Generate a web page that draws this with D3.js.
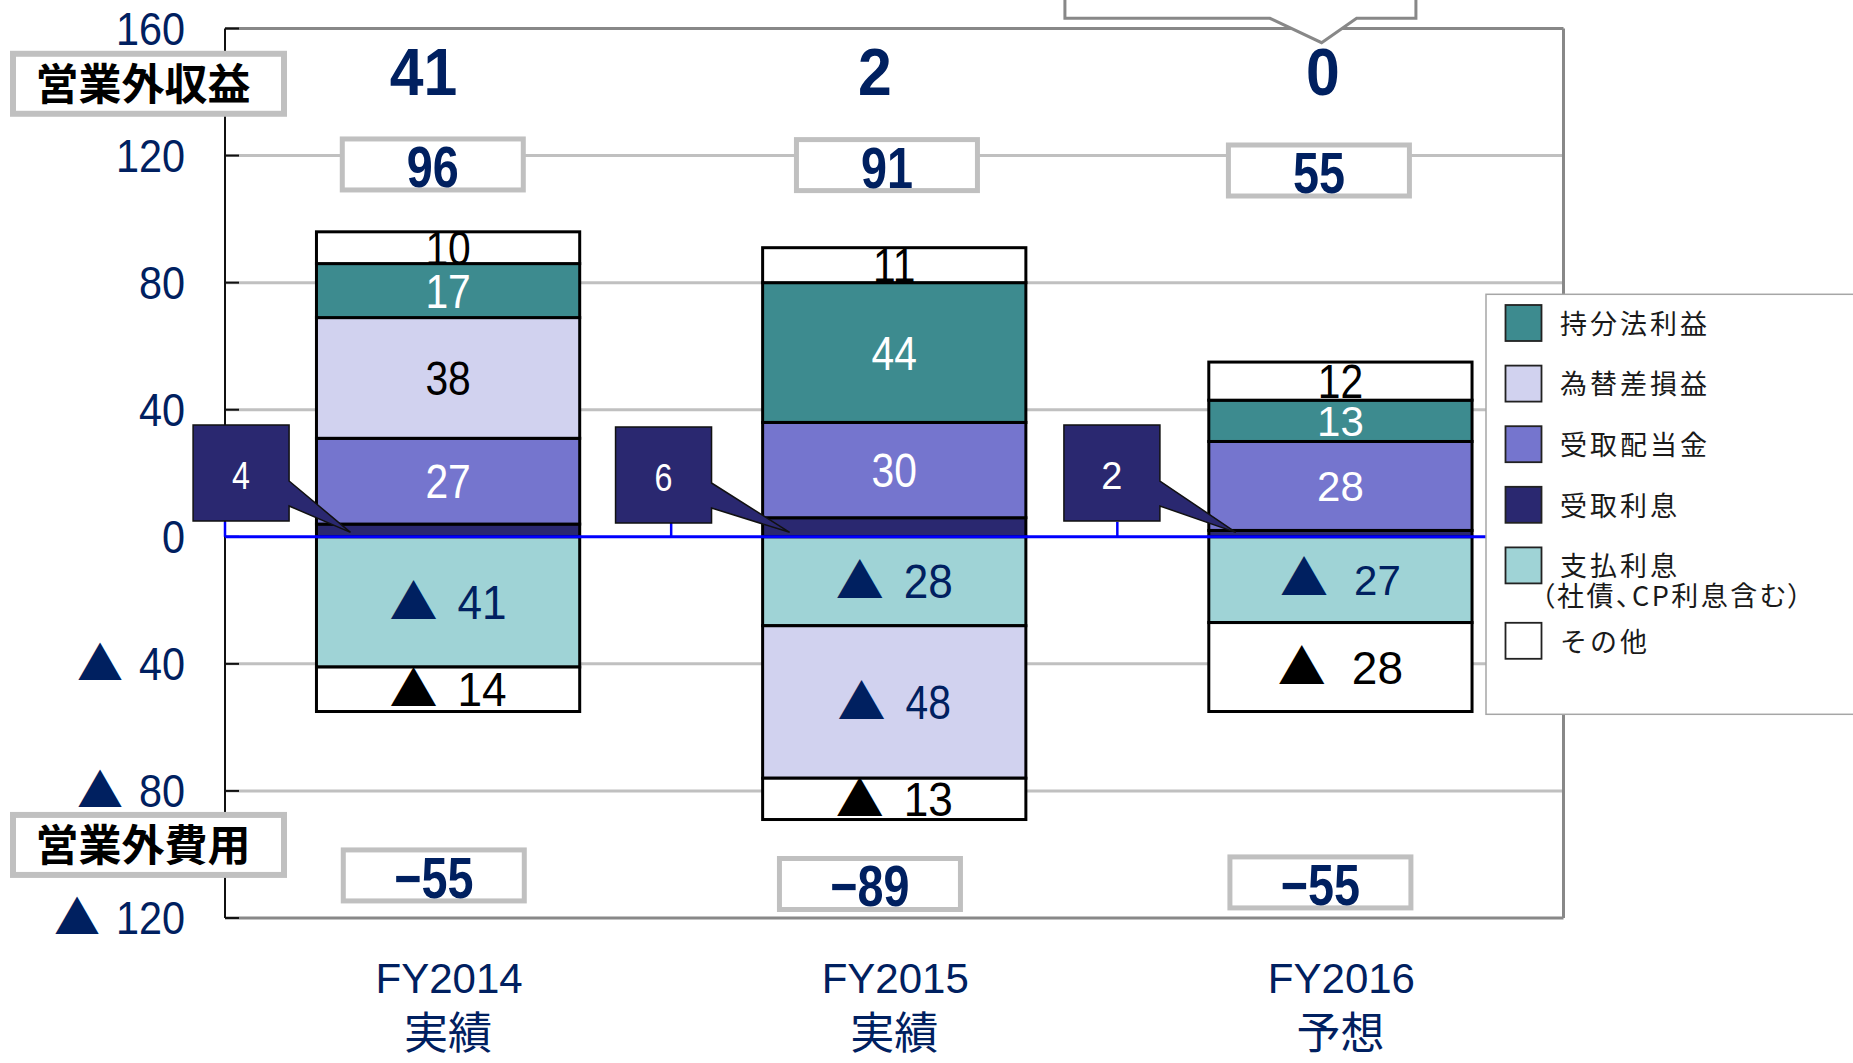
<!DOCTYPE html>
<html><head><meta charset="utf-8">
<script src="https://cdn.jsdelivr.net/npm/d3@7"></script>
<style>html,body{margin:0;padding:0;background:#fff;overflow:hidden}</style>
</head><body>
<svg id="chart" width="1853" height="1063"></svg>
<script>
// ---------------- data ----------------
const categories = ["FY2014", "FY2015", "FY2016"];
const categorySub = ["実績", "実績", "予想"];
const uketoriRisoku = [4, 6, 2];        // 受取利息
const uketoriHaitou = [27, 30, 28];     // 受取配当金
const kawaseGain = [38, 0, 0];          // 為替差損益 (+)
const mochibunHou = [17, 44, 13];       // 持分法利益
const sonotaGain = [10, 11, 12];        // その他 (+)
const shiharaiRisoku = [-41, -28, -27]; // 支払利息
const kawaseLoss = [0, -48, 0];         // 為替差損益 (-)
const sonotaLoss = [-14, -13, -28];     // その他 (-)
const incomeTotals = [96, 91, 55];
const expenseTotals = [-55, -89, -55];
const netValues = [41, 2, 0];
const yTickValues = [160, 120, 80, 40, 0, -40, -80, -120];
const legendLabels = [["持分法利益"], ["為替差損益"], ["受取配当金"], ["受取利息"], ["支払利息", "（社債、CP利息含む）"], ["その他"]];
const sideLabels = ["営業外収益", "営業外費用"];

// ---------------- styles ----------------
const NAVY_TXT = "#002060";
const C_TEAL = "#3d8b8f", C_LAV = "#d1d2ef", C_PURPLE = "#7575ce", C_NAVY = "#2a2870", C_CYAN = "#9fd3d6", C_WHITE = "#ffffff";
const LATIN = "'Liberation Sans', Arial, sans-serif";
const CJK = "'Noto Sans CJK JP', sans-serif";

const seriesDefs = [
  {key: "risoku", values: uketoriRisoku, color: C_NAVY, txt: "#fff"},
  {key: "shiharai", values: shiharaiRisoku, color: C_CYAN, txt: NAVY_TXT},
  {key: "haitou", values: uketoriHaitou, color: C_PURPLE, txt: "#fff"},
  {key: "kawaseGain", values: kawaseGain, color: C_LAV, txt: "#000"},
  {key: "kawaseLoss", values: kawaseLoss, color: C_LAV, txt: NAVY_TXT},
  {key: "mochibun", values: mochibunHou, color: C_TEAL, txt: "#fff"},
  {key: "sonotaGain", values: sonotaGain, color: C_WHITE, txt: "#000"},
  {key: "sonotaLoss", values: sonotaLoss, color: C_WHITE, txt: "#000"}
];
const legendColors = [C_TEAL, C_LAV, C_PURPLE, C_NAVY, C_CYAN, C_WHITE];

const svg = d3.select("#chart");
const plotL = 225, plotR = 1563.5, plotT = 28.5, plotB = 918;
const y = d3.scaleLinear().domain([-120, 160]).range([plotB, plotT]);
const x = d3.scaleBand().domain(categories).range([plotL, plotR]).padding(0);
const barW = x.bandwidth() * 0.59;
const cx = c => x(c) + x.bandwidth() / 2;

// composite text helper: parts laid out left to right sharing a baseline
function label(g, px, py, parts, anchor, capRef) {
  const grp = g.append("g");
  let cursor = 0;
  const base = 0.358 * capRef;
  parts.forEach((p, i) => {
    const t = grp.append("text")
      .attr("transform", `translate(${cursor},${base}) scale(${p.sx || 1},1)`)
      .style("font-family", p.family).style("font-size", p.size + "px")
      .style("font-weight", p.weight || 400)
      .attr("fill", p.fill).text(p.text);
    const w = t.node().getComputedTextLength() * (p.sx || 1);
    cursor += w + (i < parts.length - 1 ? (p.gap || 0) : 0);
  });
  const off = anchor === "middle" ? -cursor / 2 : anchor === "end" ? -cursor : 0;
  grp.attr("transform", `translate(${px + off},${py})`);
  return grp;
}
function numParts(v, o) {
  const parts = [];
  if (v < 0) parts.push({text: "▲", family: CJK, size: o.triSize, fill: o.fill, gap: o.gap});
  parts.push({text: String(Math.abs(v)), family: LATIN, size: o.size, sx: o.sx, fill: o.fill, weight: o.weight});
  return parts;
}

// ---------------- grid & frame ----------------
const gGrid = svg.append("g");
gGrid.selectAll("line.grid").data(yTickValues.filter(v => v !== 0 && v !== 160 && v !== -120))
  .join("line").attr("x1", plotL).attr("x2", plotR).attr("y1", d => y(d)).attr("y2", d => y(d))
  .attr("stroke", "#c0c0c0").attr("stroke-width", 3);
gGrid.append("line").attr("x1", plotL).attr("x2", plotR).attr("y1", y(160)).attr("y2", y(160)).attr("stroke", "#888").attr("stroke-width", 3);
gGrid.append("line").attr("x1", plotL).attr("x2", plotR).attr("y1", y(-120)).attr("y2", y(-120)).attr("stroke", "#888").attr("stroke-width", 3);
gGrid.append("line").attr("x1", plotR).attr("x2", plotR).attr("y1", y(160)).attr("y2", y(-120)).attr("stroke", "#888").attr("stroke-width", 3);
gGrid.append("line").attr("x1", plotL).attr("x2", plotL).attr("y1", y(160)).attr("y2", y(-120)).attr("stroke", "#111").attr("stroke-width", 2);
gGrid.selectAll("line.tk").data(yTickValues).join("line")
  .attr("x1", plotL).attr("x2", plotL + 14).attr("y1", d => y(d)).attr("y2", d => y(d))
  .attr("stroke", "#111").attr("stroke-width", 2);

// y tick labels
const gTicks = svg.append("g");
yTickValues.forEach(v => label(gTicks, 185, y(v), numParts(v, {size: 46, sx: 0.9, fill: NAVY_TXT, triSize: 46, gap: 16}), "end", 46));

// ---------------- bars ----------------
const rows = categories.map((c, i) => {
  const r = {cat: c, i};
  seriesDefs.forEach(s => r[s.key] = s.values[i]);
  return r;
});
const stacked = d3.stack().keys(seriesDefs.map(s => s.key)).offset(d3.stackOffsetDiverging)(rows);
const gBars = svg.append("g");
stacked.forEach((ser, si) => {
  const def = seriesDefs[si];
  gBars.selectAll(null).data(ser.filter(d => d[1] !== d[0])).join("rect")
    .attr("x", d => cx(d.data.cat) - barW / 2).attr("width", barW)
    .attr("y", d => y(d[1])).attr("height", d => y(d[0]) - y(d[1]))
    .attr("fill", def.color).attr("stroke", "#000").attr("stroke-width", 3);
});

// zero axis (blue)
const gZero = svg.append("g");
gZero.append("line").attr("x1", plotL).attr("x2", plotR).attr("y1", y(0)).attr("y2", y(0)).attr("stroke", "#0000ff").attr("stroke-width", 3);
gZero.selectAll("line.zt").data(categories.map(c => x(c)).concat([plotR])).join("line")
  .attr("x1", d => d).attr("x2", d => d).attr("y1", y(0)).attr("y2", y(0) - 15)
  .attr("stroke", "#0000ff").attr("stroke-width", 2.5);

// segment labels
const gSeg = svg.append("g");
stacked.forEach((ser, si) => {
  const def = seriesDefs[si];
  if (def.key === "risoku") return;
  ser.forEach((d, ci) => {
    const v = d.data[def.key];
    if (!v) return;
    const regular = ci === 2 && def.key !== "sonotaGain";
    const size = regular ? (def.key === "sonotaLoss" ? 46 : 42) : 48;
    const sx = regular ? 1 : (def.key === "sonotaLoss" || def.key === "shiharai" ? 0.92 : 0.85);
    label(gSeg, cx(d.data.cat), (y(d[0]) + y(d[1])) / 2,
      numParts(v, {size, sx, fill: def.txt, triSize: 48, gap: regular ? 26 : 20}), "middle", size);
  });
});

// ---------------- total boxes ----------------
const incomeBoxDx = [-15.3, -7.3, -21.5], incomeBoxV = [117.2, 117, 115.3];
const expenseBoxDx = [-14.3, -24.3, -20], expenseBoxV = [-106.6, -109.3, -108.8];
const gTot = svg.append("g");
function totalBox(bx, by, v) {
  gTot.append("rect").attr("x", bx - 90.5).attr("y", by - 25.5).attr("width", 181).attr("height", 51)
    .attr("fill", "#fff").attr("stroke", "#c0c0c0").attr("stroke-width", 5);
  label(gTot, bx, by + 2, [{text: d3.format("d")(v), family: LATIN, size: 57, sx: 0.82, weight: 700, fill: NAVY_TXT}], "middle", 57);
}
categories.forEach((c, i) => {
  totalBox(cx(c) + incomeBoxDx[i], y(incomeBoxV[i]), incomeTotals[i]);
  totalBox(cx(c) + expenseBoxDx[i], y(expenseBoxV[i]), expenseTotals[i]);
});

// net labels
const netDx = [-24.5, -19.3, -17.5];
categories.forEach((c, i) => {
  label(gTot, cx(c) + netDx[i], y(146.6), [{text: String(netValues[i]), family: LATIN, size: 66, sx: 0.92, weight: 700, fill: NAVY_TXT}], "middle", 66);
});

// ---------------- 受取利息 callouts ----------------
const calloutDx = [-255, -278.7, -276.5], calloutTop = [425, 427, 425].map(v => y.invert(v));
const tipDx = [34, 27, 27];
const gCall = svg.append("g");
categories.forEach((c, i) => {
  const bl = cx(c) + calloutDx[i], bt = y(calloutTop[i]), s = 96;
  const tipX = cx(c) - barW / 2 + tipDx[i], tipY = y(1.4);
  const p = d3.path();
  p.moveTo(bl, bt); p.lineTo(bl + s, bt); p.lineTo(bl + s, bt + 56); p.lineTo(tipX, tipY);
  p.lineTo(bl + s, bt + 81); p.lineTo(bl + s, bt + s); p.lineTo(bl, bt + s); p.closePath();
  gCall.append("path").attr("d", p.toString()).attr("fill", C_NAVY).attr("stroke", "#111").attr("stroke-width", 1.5);
  label(gCall, bl + s / 2, bt + 50, [{text: String(uketoriRisoku[i]), family: LATIN, size: 38, sx: i === 2 ? 1 : 0.85, fill: "#fff"}], "middle", 38);
});

// ---------------- x labels ----------------
const gX = svg.append("g");
categories.forEach((c, i) => {
  gX.append("text").attr("x", cx(c) + 1).attr("y", 993).attr("text-anchor", "middle")
    .style("font-family", LATIN).style("font-size", "42px").attr("fill", NAVY_TXT).text(c);
  gX.append("text").attr("x", cx(c)).attr("y", 1049).attr("text-anchor", "middle")
    .style("font-family", CJK).style("font-size", "44px").attr("fill", NAVY_TXT).text(categorySub[i]);
});

// ---------------- legend ----------------
const gLeg = svg.append("g");
gLeg.append("rect").attr("x", 1486).attr("y", 294.3).attr("width", 420).attr("height", 420)
  .attr("fill", "#fff").attr("stroke", "#a6a6a6").attr("stroke-width", 1.5);
let rowTop = 305;
legendLabels.forEach((lines, i) => {
  gLeg.append("rect").attr("x", 1505.5).attr("y", rowTop).attr("width", 36).attr("height", 36)
    .attr("fill", legendColors[i]).attr("stroke", "#222").attr("stroke-width", 1.8);
  lines.forEach((ln, j) => {
    const t = gLeg.append("text").attr("x", j === 0 ? 1560 : 1541).attr("y", rowTop + 18.5 + j * 30).attr("dy", "0.38em")
      .style("font-family", CJK).style("font-size", "27px").attr("fill", "#1a1a1a").text(ln);
    if (j === 0) t.style("letter-spacing", "3px");
    else t.style("font-feature-settings", "'palt'").style("letter-spacing", "2.5px");
  });
  rowTop += 60.6 + (lines.length > 1 ? 14.8 : 0);
});

// ---------------- side label boxes ----------------
const sideV = [142.6, -97];
const gSide = svg.append("g");
sideLabels.forEach((s, i) => {
  const cy = y(sideV[i]);
  gSide.append("rect").attr("x", 13).attr("y", cy - 30).attr("width", 271).attr("height", 60)
    .attr("fill", "#fff").attr("stroke", "#c0c0c0").attr("stroke-width", 6);
  gSide.append("text").attr("x", 143).attr("y", cy).attr("dy", "0.38em").attr("text-anchor", "middle")
    .style("font-family", CJK).style("font-size", "43px").style("font-weight", 700).attr("fill", "#000").text(s);
});

// ---------------- top callout (partially off-canvas) ----------------
const c3 = cx(categories[2]);
const tp = d3.path();
tp.moveTo(c3 - 275.5, -6); tp.lineTo(c3 - 275.5, 18.3); tp.lineTo(c3 - 70.5, 18.3); tp.lineTo(c3 - 18.8, 42.7);
tp.lineTo(c3 + 16.2, 18.3); tp.lineTo(c3 + 75.5, 18.3); tp.lineTo(c3 + 75.5, -6);
svg.append("path").attr("d", tp.toString()).attr("fill", "#fff").attr("stroke", "#888").attr("stroke-width", 3);
</script>
</body></html>
